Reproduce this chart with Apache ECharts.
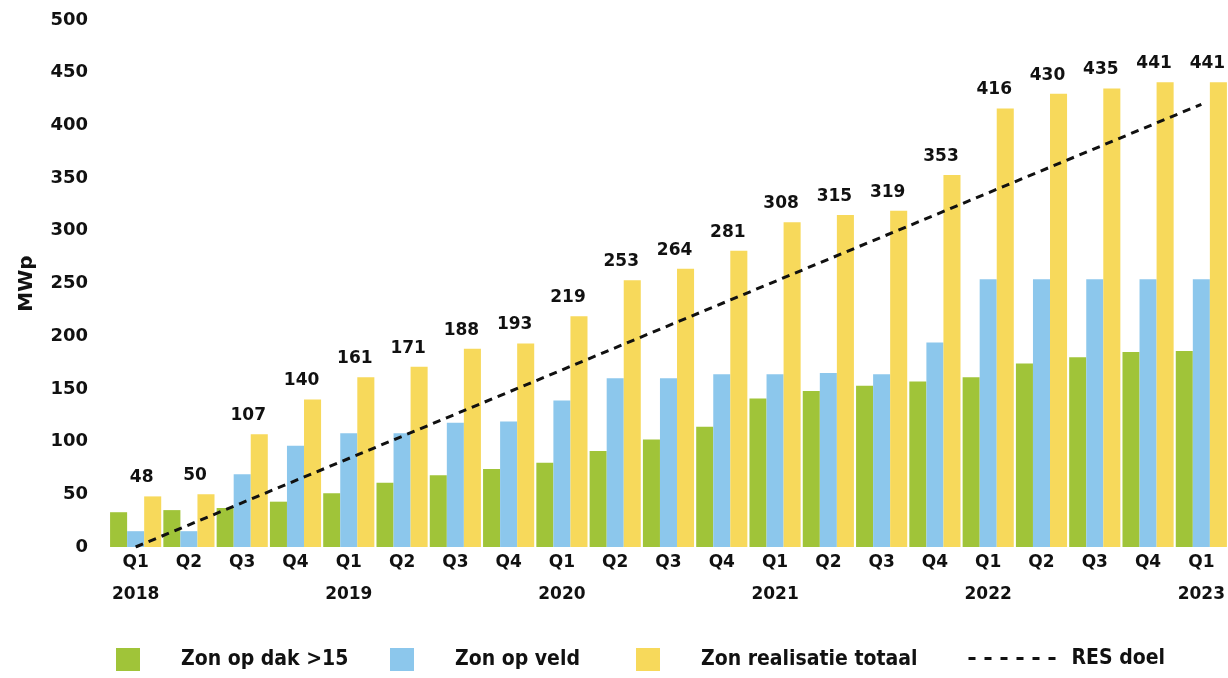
<!DOCTYPE html>
<html lang="nl">
<head>
    <meta charset="UTF-8">
    <title>zon realisatie</title>
    <script src="https://cdn.jsdelivr.net/npm/echarts@6/dist/echarts.min.js"></script>
    <style>
        html, body { margin: 0; padding: 0; background: #fff; }
        #mychart { width: 1228px; height: 678px; }
    </style>
</head>
<body>
<div id="mychart"></div>
<script>
    // kwartalen en jaren onder de as
    var quarters = ['Q1', 'Q2', 'Q3', 'Q4', 'Q1', 'Q2', 'Q3', 'Q4', 'Q1', 'Q2', 'Q3', 'Q4',
        'Q1', 'Q2', 'Q3', 'Q4', 'Q1', 'Q2', 'Q3', 'Q4', 'Q1'];
    var years = ['2018', '', '', '', '2019', '', '', '', '2020', '', '', '',
        '2021', '', '', '', '2022', '', '', '', '2023'];

    // waarden in MWp
    var dak = [33, 35, 37, 43, 51, 61, 68, 74, 80, 91, 102, 114, 141, 148, 153, 157, 161, 174, 180, 185, 186];
    var veld = [15, 15, 69, 96, 108, 108, 118, 119, 139, 160, 160, 164, 164, 165, 164, 194, 254, 254, 254, 254, 254];
    var totaal = [48, 50, 107, 140, 161, 171, 188, 193, 219, 253, 264, 281, 308, 315, 319, 353, 416, 430, 435, 441, 441];
    // RES doel: begin- en eindpunt, rechte lijn ertussen
    var resDoel = [0, null, null, null, null, null, null, null, null, null, null, null,
        null, null, null, null, null, null, null, null, 420];

    var fontMain = "'DejaVu Sans', sans-serif";
    var fontLegend = "'DejaVu Sans Condensed', 'Liberation Sans Narrow', 'Liberation Sans', sans-serif";

    function barLegend(name, left) {
        return {
            data: [name], left: left, top: 643,
            itemWidth: 24, itemHeight: 23, icon: 'rect',
            textStyle: { fontFamily: fontLegend, fontWeight: 'bold', fontSize: 21, color: '#111', padding: [0, 0, 0, 36] }
        };
    }

    var chart = echarts.init(document.getElementById('mychart'));
    chart.setOption({
        animation: false,
        grid: { left: 109, right: 0, top: 20, bottom: 131 },
        legend: [
            barLegend('Zon op dak >15', 111),
            barLegend('Zon op veld', 385),
            barLegend('Zon realisatie totaal', 631),
            {
                data: ['RES doel'],
                left: 962, top: 643,
                itemWidth: 88, itemHeight: 23,
                itemStyle: { opacity: 0 },
                lineStyle: { type: [7, 9], width: 3, color: '#111', opacity: 1 },
                textStyle: { fontFamily: fontLegend, fontWeight: 'bold', fontSize: 21, color: '#111', padding: [0, 0, 0, 10] }
            }
        ],
        xAxis: {
            type: 'category',
            data: quarters,
            axisLine: { show: false },
            axisTick: { show: false },
            axisLabel: {
                margin: 0,
                interval: 0,
                fontFamily: fontMain, fontWeight: 'bold', fontSize: 17, color: '#111',
                lineHeight: 32,
                formatter: function (v, i) {
                    return years[i] ? v + '\n' + years[i] : v;
                }
            }
        },
        yAxis: {
            type: 'value',
            min: 0, max: 500, interval: 50,
            name: 'MWp',
            nameLocation: 'middle',
            nameGap: 72,
            nameTextStyle: { fontFamily: fontMain, fontWeight: 'bold', fontSize: 20, color: '#111' },
            splitLine: { show: false },
            axisLabel: { margin: 21, fontFamily: fontMain, fontWeight: 'bold', fontSize: 18, color: '#111' }
        },
        series: [
            {
                name: 'Zon op dak >15', type: 'bar', data: dak,
                barGap: '0%', barCategoryGap: '4%',
                itemStyle: { color: '#a0c439' }
            },
            {
                name: 'Zon op veld', type: 'bar', data: veld,
                itemStyle: { color: '#8cc7ec' }
            },
            {
                name: 'Zon realisatie totaal', type: 'bar', data: totaal,
                itemStyle: { color: '#f7d95b' },
                label: {
                    show: true, position: 'top', distance: 10, offset: [-11, 0],
                    fontFamily: fontMain, fontWeight: 'bold', fontSize: 17, color: '#111'
                }
            },
            {
                name: 'RES doel', type: 'line', data: resDoel,
                connectNulls: true, symbol: 'none', z: 5,
                itemStyle: { color: '#111' },
                lineStyle: { type: [8, 6], width: 3, color: '#111' }
            }
        ]
    });
</script>
</body>
</html>
